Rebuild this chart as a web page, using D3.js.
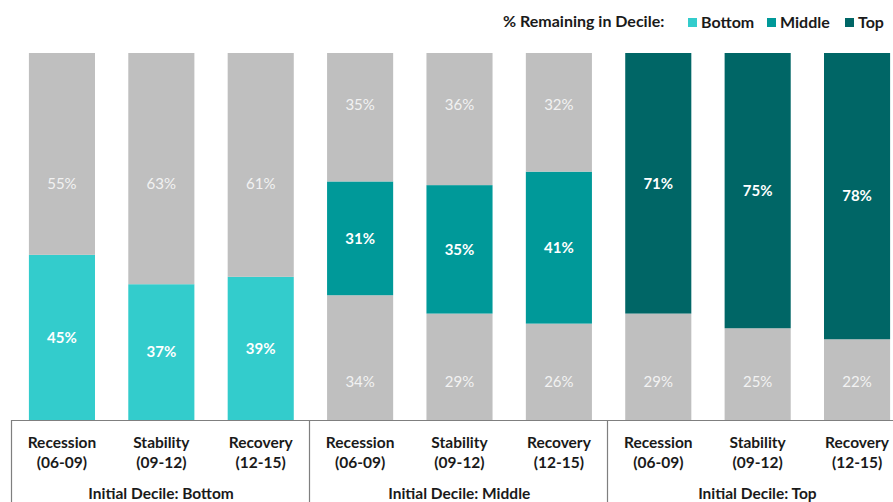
<!DOCTYPE html>
<html lang="en">
<head>
    <meta charset="UTF-8">
    <title>Decile mobility</title>
    <script src="https://cdn.jsdelivr.net/npm/d3@7"></script>
    <style>
        body { margin: 0; background: #fff; }
        text { font-family: Lato, "Open Sans", sans-serif; }
    </style>
</head>
<body>
<svg width="893" height="502" xmlns="http://www.w3.org/2000/svg" id="chart"></svg>
<script>
    // data
    const groups = ["Bottom", "Middle", "Top"];
    const periods = ["Recession", "Stability", "Recovery"];
    const years = ["(06-09)", "(09-12)", "(12-15)"];
    // share that moved below / stayed / moved above, per group, per period
    const belowValues = [[0, 0, 0], [34, 29, 26], [29, 25, 22]];
    const stayValues = [[45, 37, 39], [31, 35, 41], [71, 75, 78]];
    const aboveValues = [[55, 63, 61], [35, 36, 32], [0, 0, 0]];

    const colors = {Bottom: "#33CCCC", Middle: "#009999", Top: "#006666"};
    const gray = "#BFBFBF";

    const svg = d3.select("#chart");
    const baseY = 420, topY = 53;

    // one row per bar
    const rows = [];
    groups.forEach((g, gi) => {
        periods.forEach((p, pi) => {
            rows.push({key: g + "|" + p, group: g, period: p, year: years[pi],
                below: belowValues[gi][pi], stay: stayValues[gi][pi], above: aboveValues[gi][pi]});
        });
    });

    const x = d3.scaleBand()
        .domain(rows.map(d => d.key))
        .range([13, 906])
        .paddingInner(0.335)
        .paddingOuter(0.16);
    const y = d3.scaleLinear().domain([0, 1]).range([baseY, topY]);

    const stack = d3.stack()
        .keys(["below", "stay", "above"])
        .offset(d3.stackOffsetExpand);
    const series = stack(rows);

    const fillFor = (k, d) => k === "stay" ? colors[d.data.group] : gray;

    svg.append("g").selectAll("g")
        .data(series)
        .join("g")
        .each(function (s) {
            d3.select(this).selectAll("rect")
                .data(s.filter(d => d[1] - d[0] > 0))
                .join("rect")
                .attr("x", d => x(d.data.key))
                .attr("width", x.bandwidth())
                .attr("y", d => y(d[1]))
                .attr("height", d => y(d[0]) - y(d[1]))
                .attr("fill", d => fillFor(s.key, d));
        });

    // labels: coloured share in the middle of its segment, grey ones at fixed heights
    const upperLabelAt = {Bottom: 0.645, Middle: 0.86};
    const lowerLabelAt = 0.105;
    series.forEach(s => {
        s.filter(d => d[1] - d[0] > 0).forEach(d => {
            const v = d.data[s.key];
            let ly, bold = false;
            if (s.key === "stay") { ly = y((d[0] + d[1]) / 2); bold = true; }
            else if (s.key === "below") ly = y(lowerLabelAt);
            else ly = y(upperLabelAt[d.data.group]);
            svg.append("text")
                .attr("x", x(d.data.key) + x.bandwidth() / 2)
                .attr("y", ly)
                .attr("dy", "0.35em")
                .attr("text-anchor", "middle")
                .attr("font-size", 15)
                .attr("font-weight", bold ? "bold" : "normal")
                .attr("fill", bold ? "#FFFFFF" : "#F2F2F2")
                .text(v + "%");
        });
    });

    // axis line and group dividers
    const step = x.step();
    svg.append("line")
        .attr("x1", 11).attr("x2", 893)
        .attr("y1", baseY + 0.5).attr("y2", baseY + 0.5)
        .attr("stroke", "#7F7F7F").attr("stroke-width", 1.2);
    groups.forEach((g, i) => {
        const gx = Math.round(12 + i * step * 3) - 0.5;
        svg.append("line")
            .attr("x1", gx).attr("x2", gx)
            .attr("y1", baseY).attr("y2", 502)
            .attr("stroke", "#7F7F7F").attr("stroke-width", 1.2);
        svg.append("text")
            .attr("x", 12 + (i + 0.5) * step * 3)
            .attr("y", 499)
            .attr("text-anchor", "middle")
            .attr("font-size", 15.5)
            .attr("font-weight", "bold")
            .attr("fill", "#1a1a1a")
            .text("Initial Decile: " + g);
    });

    // category labels
    const catText = svg.append("g").selectAll("text")
        .data(rows)
        .join("text")
        .attr("text-anchor", "middle")
        .attr("font-size", 15.5)
        .attr("font-weight", "bold")
        .attr("fill", "#1a1a1a");
    catText.append("tspan")
        .attr("x", d => x(d.key) + x.bandwidth() / 2)
        .attr("y", 448)
        .text(d => d.period);
    catText.append("tspan")
        .attr("x", d => x(d.key) + x.bandwidth() / 2)
        .attr("y", 468)
        .text(d => d.year);

    // legend
    const legend = svg.append("g").attr("font-size", 16).attr("font-weight", "bold").attr("fill", "#1a1a1a");
    legend.append("text").attr("x", 503).attr("y", 27).text("% Remaining in Decile:");
    const legendX = [688, 767, 845];
    groups.forEach((g, i) => {
        legend.append("rect")
            .attr("x", legendX[i]).attr("y", 18)
            .attr("width", 9).attr("height", 9)
            .attr("fill", colors[g]);
        legend.append("text").attr("x", legendX[i] + 13).attr("y", 28).text(g);
    });
</script>
</body>
</html>
